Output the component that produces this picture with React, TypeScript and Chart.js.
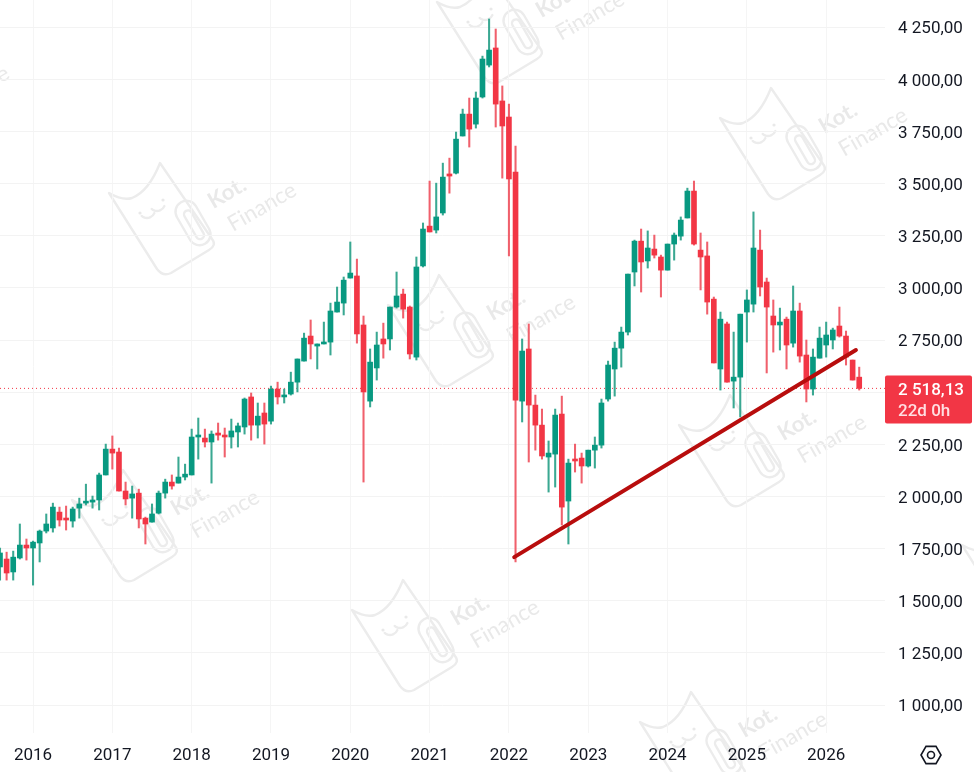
import React, { useEffect, useRef } from "react";
import { Chart, registerables } from "chart.js";

Chart.register(...registerables);

// Monthly candles: the first one is Aug 2015 (month -5 relative to Jan 2016)
const firstMonth = -5;
const opens = [1662,1700,1638,1705,1767,1753,1777,1834,1849,1925,1892,1882,1944,1968,1973,1983,2103,2227,2213,2026,1992,2016,1896,1877,1920,2016,2069,2064,2093,2103,2285,2280,2261,2304,2290,2285,2309,2333,2477,2342,2400,2361,2515,2477,2491,2548,2649,2769,2721,2731,2740,2884,2927,3047,3057,2822,2457,2616,2755,2755,2908,2970,2908,2668,3105,3296,3277,3359,3546,3550,3728,3833,3785,3915,4068,4150,3896,3819,3555,2457,2707,2438,2342,2189,2203,2395,1978,2175,2184,2146,2222,2246,2467,2611,2711,2788,3076,3224,3129,3186,3148,3085,3210,3248,3335,3464,3181,3153,2946,2611,2827,2553,2572,2884,2922,3181,3028,2865,2822,2850,2735,2889,2678,2515,2663,2726,2750,2817,2769,2654,2572];
const highs = [1753,1733,1738,1868,1796,1786,1839,1916,1968,1949,1954,1949,1992,2059,2002,2112,2251,2290,2232,2069,2050,2035,1901,1964,2026,2083,2103,2189,2155,2323,2376,2323,2314,2352,2328,2371,2352,2472,2496,2448,2448,2529,2548,2515,2596,2659,2783,2846,2731,2836,2927,3004,3052,3220,3138,2865,2707,2788,2831,2908,3076,2994,2913,3148,3311,3512,3502,3598,3622,3747,3857,3910,3939,4111,4289,4241,3968,3881,3680,2755,2827,2486,2419,2266,2419,2481,2179,2251,2208,2222,2285,2467,2649,2740,2812,3066,3229,3282,3273,3253,3157,3210,3263,3340,3478,3512,3263,3220,2956,2884,2836,2788,2874,2990,3364,3277,3047,2942,2903,2860,3009,2927,2750,2707,2812,2836,2807,2908,2793,2654,2620];
const lows = [1599,1599,1599,1700,1695,1575,1686,1825,1829,1858,1839,1853,1896,1959,1944,1935,2103,2131,2026,1959,1896,1849,1772,1877,1916,1992,2035,2064,2079,2103,2179,2237,2064,2270,2189,2232,2237,2299,2270,2280,2251,2347,2443,2448,2486,2501,2649,2659,2611,2731,2678,2884,2870,3047,2735,2069,2429,2558,2663,2702,2903,2855,2659,2654,3100,3268,3263,3349,3454,3546,3728,3675,3766,3910,4059,3771,3526,3153,1686,2357,2165,2222,2179,2021,2045,1863,1772,2117,2064,2141,2136,2232,2457,2481,2620,2774,3009,2980,3095,3143,2956,3085,3133,3229,3335,3205,2990,2874,2640,2510,2548,2424,2381,2740,2884,2961,2592,2692,2702,2611,2716,2644,2453,2486,2663,2668,2707,2764,2630,2558,2510];
const closes = [1729,1633,1709,1767,1753,1781,1834,1868,1949,1887,1887,1940,1964,1973,1983,2103,2227,2208,2026,1988,2012,1892,1868,1916,2016,2069,2050,2093,2107,2285,2290,2261,2299,2294,2285,2314,2338,2467,2342,2385,2347,2515,2477,2486,2548,2659,2759,2731,2731,2740,2889,2932,3037,3071,2779,2501,2644,2726,2731,2908,2961,2898,2683,3100,3282,3268,3340,3531,3536,3713,3833,3761,3910,4097,4140,3881,3776,3522,2462,2697,2438,2342,2194,2208,2390,1949,2160,2170,2146,2222,2246,2448,2630,2711,2788,3066,3224,3124,3191,3157,3085,3210,3253,3325,3464,3210,3148,2932,2640,2850,2548,2572,2874,2942,3191,3004,2908,2822,2836,2726,2889,2673,2515,2668,2759,2774,2798,2769,2668,2558,2518];

const yTickValues = [1000,1250,1500,1750,2000,2250,2500,2750,3000,3250,3500,3750,4000,4250];
const yTickLabels = ["1 000,00","1 250,00","1 500,00","1 750,00","2 000,00","2 250,00","","2 750,00","3 000,00","3 250,00","3 500,00","3 750,00","4 000,00","4 250,00"];
const xTickValues = [0,12,24,36,48,60,72,84,96,108,120];
const xTickLabels = ["2016","2017","2018","2019","2020","2021","2022","2023","2024","2025","2026"];

const trendMonths = [72.8, 124.5];
const trendPrices = [1709, 2702];
const lastPrice = 2518.13;
const lastPriceLabel = "2 518,13";
const countdownLabel = "22d 0h";
const watermarkFirst = "Kot.";
const watermarkSecond = "Finance";
const watermarkAnchors = [[109,193],[437,2],[720,118],[388,305],[352,610],[679,425],[640,722],[72,500],[-178,76],[962,545]];

const UP = "#089981";
const DOWN = "#F23645";
const UP_WICK = "#3aa892";
const DOWN_WICK = "#f0606c";
const AXIS_TEXT = "#131722";
const FONT = "Roboto";
const months = opens.map((_, i) => firstMonth + i);
const colors = opens.map((o, i) => (closes[i] >= o ? UP : DOWN));
const wickColors = opens.map((o, i) => (closes[i] >= o ? UP_WICK : DOWN_WICK));

function zeroPadding(s: any) {
  s.paddingLeft = 0;
  s.paddingRight = 0;
  s.paddingTop = 0;
  s.paddingBottom = 0;
}

function drawWatermark(ctx: CanvasRenderingContext2D, px: number, py: number) {
  ctx.save();
  ctx.translate(px, py);
  ctx.strokeStyle = "#ececec";
  ctx.fillStyle = "#e9e9e9";
  ctx.lineWidth = 2.4;
  ctx.lineJoin = "round";
  ctx.lineCap = "round";
  ctx.beginPath();
  ctx.moveTo(0, 0);
  ctx.quadraticCurveTo(14, 8, 23, 5);
  ctx.quadraticCurveTo(40, -2, 51, -30);
  ctx.lineTo(103, 46);
  ctx.quadraticCurveTo(108, 52, 100, 57);
  ctx.lineTo(62, 80);
  ctx.quadraticCurveTo(54, 84, 48, 76);
  ctx.closePath();
  ctx.stroke();
  ctx.beginPath();
  ctx.arc(31, 20, 1.6, 0, Math.PI * 2);
  ctx.arc(54, 7, 1.6, 0, Math.PI * 2);
  ctx.fill();
  ctx.beginPath();
  ctx.arc(38, 17, 8, 0.4, 2.3);
  ctx.stroke();
  ctx.beginPath();
  ctx.arc(48, 10, 8, 0.4, 2.3);
  ctx.stroke();
  ctx.translate(84, 30);
  ctx.rotate(Math.PI / 3);
  ctx.beginPath();
  ctx.roundRect(-24, -11, 48, 22, 11);
  ctx.stroke();
  ctx.beginPath();
  ctx.roundRect(-14, -4, 32, 8, 4);
  ctx.stroke();
  ctx.rotate(-Math.PI / 3);
  ctx.translate(-84, -30);
  ctx.translate(118, 0);
  ctx.rotate(-Math.PI / 6);
  ctx.textAlign = "center";
  ctx.textBaseline = "middle";
  ctx.font = "bold 22px Lato";
  ctx.fillText(watermarkFirst, 0, 0);
  ctx.rotate(Math.PI / 6);
  ctx.translate(35, 14);
  ctx.rotate(-Math.PI / 6);
  ctx.font = "22px Lato";
  ctx.fillText(watermarkSecond, 0, 0);
  ctx.restore();
}

const overlayPlugin = {
  id: "overlay",
  beforeDraw(chart: any) {
    const ctx = chart.ctx;
    watermarkAnchors.forEach(([x, y]) => drawWatermark(ctx, x, y));
  },
  afterDraw(chart: any) {
    const ctx = chart.ctx;
    const y = chart.scales.y.getPixelForValue(lastPrice);
    ctx.save();
    ctx.fillStyle = DOWN;
    ctx.beginPath();
    ctx.roundRect(885, y - 13, 87, 48, 2);
    ctx.fill();
    ctx.textBaseline = "middle";
    ctx.textAlign = "left";
    ctx.font = `500 17px ${FONT}`;
    ctx.fillStyle = "#ffffff";
    ctx.fillText(lastPriceLabel, 898, y + 2);
    ctx.fillStyle = "#ffdfe2";
    ctx.fillText(countdownLabel, 898, y + 23);
    ctx.strokeStyle = AXIS_TEXT;
    ctx.lineWidth = 1.6;
    ctx.beginPath();
    const cx = 931, cy = 755, r = 10;
    for (let i = 0; i < 6; i++) {
      const a = (Math.PI / 3) * i;
      const sx = cx + r * Math.cos(a);
      const sy = cy + r * Math.sin(a);
      if (i === 0) ctx.moveTo(sx, sy); else ctx.lineTo(sx, sy);
    }
    ctx.closePath();
    ctx.stroke();
    ctx.beginPath();
    ctx.arc(cx, cy, 3.5, 0, Math.PI * 2);
    ctx.stroke();
    ctx.restore();
  },
};

export default function App() {
  const ref = useRef<HTMLCanvasElement>(null);
  useEffect(() => {
    const chart = new Chart(ref.current as HTMLCanvasElement, {
      type: "bar",
      data: {
        datasets: [
          {
            type: "line",
            data: trendMonths.map((x, i) => ({ x, y: trendPrices[i] })),
            borderColor: "#b80d0d",
            borderWidth: 4,
            borderCapStyle: "round",
            pointRadius: 0,
            tension: 0,
            order: 0,
          },
          {
            data: months.map((x, i) => ({ x, y: [opens[i], closes[i]] })),
            backgroundColor: colors,
            borderWidth: 0,
            barThickness: 5,
            minBarLength: 2,
            grouped: false,
            order: 1,
          },
          {
            data: months.map((x, i) => ({ x, y: [lows[i], highs[i]] })),
            backgroundColor: wickColors,
            borderWidth: 0,
            barThickness: 1.4,
            grouped: false,
            order: 2,
          },
          {
            type: "line",
            data: [{ x: firstMonth, y: lastPrice }, { x: 128.9, y: lastPrice }],
            borderColor: "#F23645",
            borderWidth: 1,
            borderDash: [1, 3],
            pointRadius: 0,
            order: 3,
          },
        ] as any,
      },
      options: {
        animation: false,
        responsive: false,
        devicePixelRatio: 1,
        layout: { padding: 0 },
        plugins: { legend: { display: false }, tooltip: { enabled: false } },
        scales: {
          x: {
            type: "linear",
            offset: false,
            min: firstMonth,
            max: 128.9,
            grid: { color: "#f5f5f5", drawTicks: false, offset: false },
            border: { display: false },
            afterBuildTicks: (s: any) => { s.ticks = xTickValues.map((value) => ({ value })); },
            afterFit: (s: any) => { s.height = 39; zeroPadding(s); },
            ticks: {
              autoSkip: false,
              maxRotation: 0,
              padding: 13,
              color: AXIS_TEXT,
              font: { family: FONT, size: 17 },
              callback: (v: any) => xTickLabels[xTickValues.indexOf(Number(v))] ?? "",
            },
          },
          y: {
            type: "linear",
            position: "right",
            min: 866,
            max: 4380,
            grid: { color: "#f3f3f3", drawTicks: false },
            border: { display: false },
            afterBuildTicks: (s: any) => { s.ticks = yTickValues.map((value) => ({ value })); },
            afterFit: (s: any) => { s.width = 89; zeroPadding(s); },
            ticks: {
              autoSkip: false,
              padding: 13,
              labelOffset: 2,
              color: AXIS_TEXT,
              font: { family: FONT, size: 17 },
              callback: (v: any) => yTickLabels[yTickValues.indexOf(Number(v))] ?? "",
            },
          },
        },
      } as any,
      plugins: [overlayPlugin],
    });
    return () => chart.destroy();
  }, []);
  return (
    <div style={{ position: "absolute", left: 0, top: 0, width: 974, height: 772, background: "#ffffff" }}>
      <canvas ref={ref} width={974} height={772} style={{ display: "block" }} />
    </div>
  );
}
